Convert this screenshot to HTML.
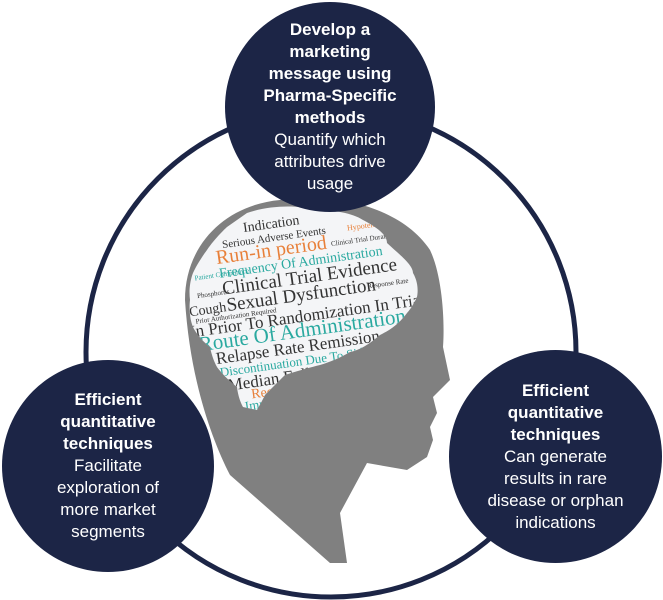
<!DOCTYPE html>
<html><head><meta charset="utf-8"><style>
html,body{margin:0;padding:0;background:#fff;width:663px;height:600px;overflow:hidden}
.c{position:absolute;border-radius:50%;background:#1c2546;color:#fff;font-family:"Liberation Sans",sans-serif;font-size:17px;line-height:22px;text-align:center;display:flex;flex-direction:column;justify-content:center}
b{font-weight:bold}
</style></head><body>
<svg width="663" height="600" style="position:absolute;left:0;top:0">
<circle cx="331" cy="352" r="245" fill="none" stroke="#1c2546" stroke-width="5"/>
<path d="M280,200 C330,192 400,205 430,250 C442,275 445,320 443,347 L450,380 L433,397 L437,413 L430,427 L433,440 L427,457 L407,470 L367,463 L340,513 L347,563 L330,563 L230,475 C212,440 190,380 185,300 C185,245 225,205 280,200 Z" fill="#808080"/>
<defs><clipPath id="cl"><path d="M247,213 C270,205 300,205 313,210 C335,210 352,213 363,220 C378,228 387,235 387,243 C400,255 413,265 413,273 C420,285 417,297 417,297 C412,308 407,313 407,313 C398,325 390,330 380,335 C368,345 360,350 350,352 C340,358 330,362 320,365 C300,370 285,375 285,375 C275,385 265,395 265,395 C260,405 257,410 257,410 L243,407 C238,398 237,387 237,387 C225,378 217,367 217,367 C212,358 210,347 210,347 C198,338 193,327 193,327 C188,315 190,300 190,300 C188,285 193,273 193,273 C198,262 207,250 207,250 C215,238 227,227 227,227 Z"/></clipPath></defs>
<g clip-path="url(#cl)">
<rect x="180" y="200" width="250" height="220" fill="#f4f5f7"/>
<g transform="rotate(-8 300 310)" font-family="'Liberation Serif',serif">
<text x="255" y="225" font-size="14" fill="#333">Indication</text>
<text x="232" y="238" font-size="11" fill="#333">Serious Adverse Events</text>
<text x="358" y="238" font-size="8" fill="#e8803a">Hypotension</text>
<text x="224" y="253" font-size="20" fill="#e8803a">Run-in period</text>
<text x="340" y="251" font-size="7" fill="#333">Clinical Trial Duration</text>
<text x="200" y="266" font-size="7" fill="#2aa9a0">Patient Compliance</text>
<text x="225" y="267" font-size="14" fill="#2aa9a0">Frequency Of Administration</text>
<text x="200" y="284" font-size="7" fill="#333">Phosphorus</text>
<text x="226" y="284" font-size="19" fill="#333">Clinical Trial Evidence</text>
<text x="190" y="301" font-size="14" fill="#333">Cough</text>
<text x="228" y="301" font-size="19" fill="#333">Sexual Dysfunction</text>
<text x="370" y="298" font-size="7" fill="#333">Response Rate</text>
<text x="195" y="309" font-size="7" fill="#333">Prior Authorization Required</text>
<text x="188" y="322" font-size="17" fill="#333">In Prior To Randomization In Trial</text>
<text x="195" y="337" font-size="21" fill="#2aa9a0">Route Of Administration</text>
<text x="210" y="352" font-size="17" fill="#333">Relapse Rate  Remission</text>
<text x="212" y="365" font-size="13" fill="#2aa9a0">Discontinuation Due To Side</text>
<text x="218" y="380" font-size="17" fill="#333">Median Follow Up</text>
<text x="240" y="391" font-size="14" fill="#e8803a">Rec</text>
<text x="232" y="402" font-size="13" fill="#2aa9a0">Impr</text>
</g></g>
</svg>
<div class="c" style="left:225px;top:2px;width:210px;height:210px"><b>Develop a<br>marketing<br>message using<br>Pharma-Specific<br>methods</b>Quantify which<br>attributes drive<br>usage</div>
<div class="c" style="left:2px;top:360px;width:212px;height:212px"><b>Efficient<br>quantitative<br>techniques</b>Facilitate<br>exploration of<br>more market<br>segments</div>
<div class="c" style="left:449px;top:350px;width:213px;height:213px"><b>Efficient<br>quantitative<br>techniques</b>Can generate<br>results in rare<br>disease or orphan<br>indications</div>
</body></html>
